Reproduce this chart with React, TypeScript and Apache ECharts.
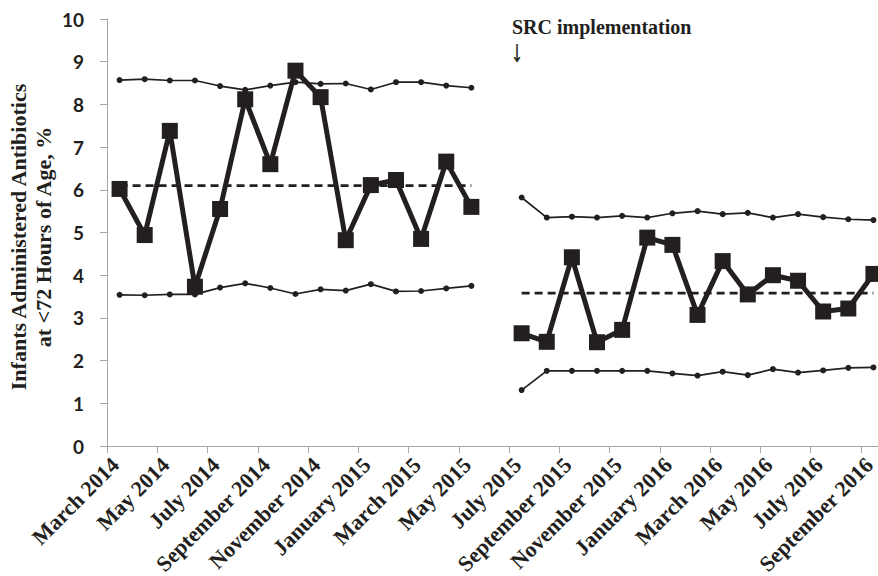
import React, { useEffect, useRef } from "react";
import * as echarts from "echarts";

const categories = [
  "March 2014", "April 2014", "May 2014", "June 2014", "July 2014", "August 2014",
  "September 2014", "October 2014", "November 2014", "December 2014", "January 2015",
  "February 2015", "March 2015", "April 2015", "May 2015", "June 2015", "July 2015",
  "August 2015", "September 2015", "October 2015", "November 2015", "December 2015",
  "January 2016", "February 2016", "March 2016", "April 2016", "May 2016", "June 2016",
  "July 2016", "August 2016", "September 2016",
];

const rateValues = [
  6.02, 4.94, 7.38, 3.73, 5.55, 8.12, 6.6, 8.79, 8.17, 4.82, 6.11, 6.23, 4.85, 6.66, 5.6,
  null,
  2.64, 2.44, 4.42, 2.43, 2.72, 4.88, 4.71, 3.07, 4.33, 3.55, 4.0, 3.87, 3.15, 3.22, 4.03,
];

const upperLimit = [
  8.57, 8.59, 8.56, 8.56, 8.43, 8.34, 8.44, 8.52, 8.48, 8.49, 8.35, 8.52, 8.52, 8.44, 8.39,
  null,
  5.82, 5.35, 5.37, 5.35, 5.39, 5.35, 5.45, 5.5, 5.43, 5.46, 5.35, 5.43, 5.36, 5.31, 5.29,
];

const lowerLimit = [
  3.54, 3.53, 3.55, 3.55, 3.71, 3.81, 3.7, 3.56, 3.67, 3.64, 3.79, 3.62, 3.63, 3.69, 3.75,
  null,
  1.31, 1.76, 1.76, 1.76, 1.76, 1.76, 1.7, 1.65, 1.74, 1.66, 1.8, 1.72, 1.77, 1.83, 1.84,
];

const meanLine = [
  6.1, 6.1, 6.1, 6.1, 6.1, 6.1, 6.1, 6.1, 6.1, 6.1, 6.1, 6.1, 6.1, 6.1, 6.1,
  null,
  3.58, 3.58, 3.58, 3.58, 3.58, 3.58, 3.58, 3.58, 3.58, 3.58, 3.58, 3.58, 3.58, 3.58, 3.58,
];

const INK = "#231f20";
const AXIS = "#a6a6a6";

export default function App() {
  const ref = useRef<HTMLDivElement>(null);

  useEffect(() => {
    if (!ref.current) return;
    const chart = echarts.init(ref.current, null, { renderer: "svg" });
    const limitStyle = {
      type: "line",
      symbol: "circle",
      symbolSize: 6,
      showAllSymbol: true,
      lineStyle: { color: INK, width: 1.7 },
      itemStyle: { color: INK },
      z: 2,
    };
    chart.setOption({
      animation: false,
      backgroundColor: "#ffffff",
      grid: {
        left: 107,
        top: 19,
        width: 779,
        height: 427,
        containLabel: false,
        outerBoundsMode: "none",
      },
      xAxis: {
        type: "category",
        data: categories,
        boundaryGap: true,
        axisLine: { lineStyle: { color: AXIS, width: 1 } },
        axisTick: { show: true, interval: 1, length: 7, lineStyle: { color: AXIS } },
        axisLabel: {
          interval: 1,
          rotate: 45,
          margin: 11,
          padding: [0, 6, 0, 0],
          fontFamily: "Liberation Serif",
          fontWeight: "bold",
          fontSize: 22,
          color: INK,
        },
        splitLine: { show: false },
      },
      yAxis: {
        type: "value",
        min: 0,
        max: 10,
        interval: 1,
        axisLine: { show: true, lineStyle: { color: AXIS, width: 1 } },
        axisTick: { show: true, length: 7, lineStyle: { color: AXIS } },
        splitLine: { show: false },
        axisLabel: {
          margin: 23,
          fontFamily: "Lato",
          fontWeight: "bold",
          fontSize: 19,
          color: INK,
        },
      },
      graphic: [
        {
          type: "text",
          x: 31,
          y: 237,
          rotation: Math.PI / 2,
          style: {
            text: "Infants Administered Antibiotics\nat <72 Hours of Age, %",
            font: "bold 22px 'Liberation Serif'",
            textAlign: "center",
            textVerticalAlign: "middle",
            lineHeight: 25,
            fill: INK,
          },
        },
        {
          type: "text",
          left: 512,
          top: 17,
          style: { text: "SRC implementation", font: "bold 20px 'Liberation Serif'", fill: INK },
        },
        {
          type: "text",
          x: 517,
          y: 51,
          scaleX: 0.8,
          style: {
            text: "↓",
            font: "bold 30px 'Liberation Serif'",
            textAlign: "center",
            textVerticalAlign: "middle",
            fill: INK,
            stroke: INK,
            lineWidth: 0.6,
          },
        },
      ],
      series: [
        { ...limitStyle, name: "Upper control limit", data: upperLimit },
        { ...limitStyle, name: "Lower control limit", data: lowerLimit },
        {
          type: "line",
          name: "Mean",
          data: meanLine,
          symbol: "none",
          lineStyle: { color: INK, width: 2.7, type: [8, 5] },
          z: 3,
        },
        {
          type: "line",
          name: "Infants administered antibiotics",
          data: rateValues,
          symbol: "rect",
          symbolSize: 16,
          showAllSymbol: true,
          lineStyle: { color: INK, width: 5 },
          itemStyle: { color: INK },
          z: 4,
        },
      ],
    });
    return () => chart.dispose();
  }, []);

  return (
    <div
      style={{ position: "absolute", left: 0, top: 0, width: 878, height: 576, overflow: "hidden", background: "#fff" }}
    >
      <div ref={ref} style={{ width: 900, height: 576 }} />
    </div>
  );
}
